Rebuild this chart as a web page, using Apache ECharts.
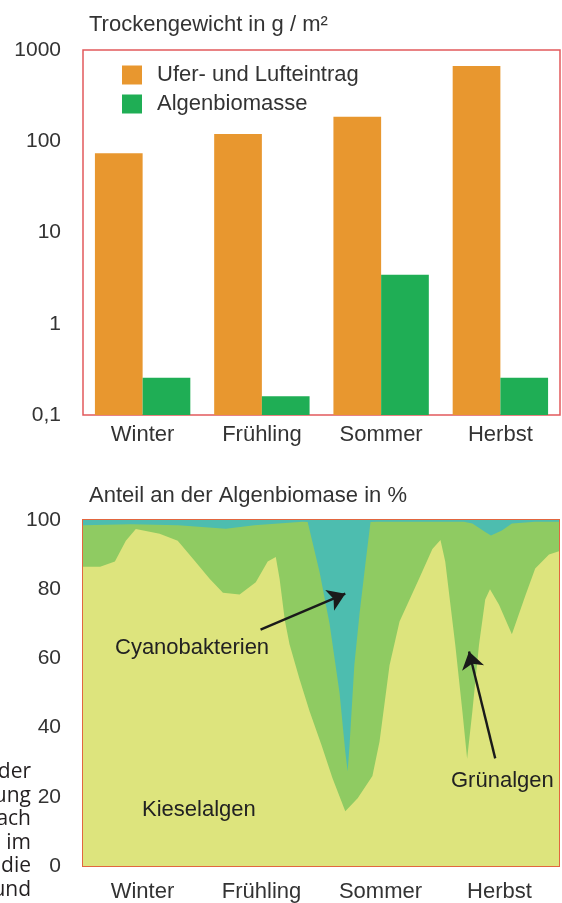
<!DOCTYPE html>
<html>
<head>
<meta charset="utf-8">
<script src="https://cdn.jsdelivr.net/npm/echarts@6/dist/echarts.min.js"></script>
<style>
  html, body { margin: 0; padding: 0; background: #fff; }
  #chart { width: 562px; height: 903px; }
</style>
</head>
<body>
<div id="chart"></div>
<script>
// Jahreszeiten (x-Achse beider Diagramme)
const seasons = ["Winter", "Frühling", "Sommer", "Herbst"];

// oben: Trockengewicht in g / m² (log)
const uferLuft = [74, 120, 185, 668];
const algen = [0.256, 0.161, 3.45, 0.256];

// unten: Anteil an der Algenbiomasse, kumulierte Obergrenzen in %
// x = Position im Jahr (0..100)
const kieselX = [0, 3.6, 6.7, 9.0, 11.1, 16.1, 19.9, 23.1, 26.6, 29.4, 32.9, 36.3, 38.8, 40.5, 41.3, 42.4, 43.4, 45.5, 47.6, 50.1, 52.4, 55.1, 57.7, 60.8, 62.3, 64.4, 66.5, 70.6, 73.4, 75.1, 76.1, 78.2, 79.7, 80.7, 81.8, 83.2, 84.5, 85.5, 87.4, 90.1, 92.9, 95.0, 97.9, 100];
const kieselTop = [86.5, 86.5, 88, 94, 97.4, 96, 94, 88.8, 83, 79, 78.5, 82, 88, 89.3, 83, 71, 64, 54, 44.7, 35, 25.4, 15.8, 19.6, 26, 36, 58, 70.7, 83, 91.6, 94.2, 88, 64, 44.7, 31, 44.7, 64, 77, 80, 75.5, 67, 78, 86, 90, 91];

const gruenX = [0, 10, 20, 30, 36, 46.1, 47.2, 49.7, 51.8, 53.9, 55.1, 55.6, 56.0, 57.0, 58.1, 59.3, 60.4, 62, 80, 81.8, 84.5, 85.7, 88, 90.1, 95, 100];
const gruenTop = [98.5, 98.8, 98.5, 97.5, 98.5, 99.5, 99.4, 85, 70, 50, 33, 27.4, 35, 58, 73, 87, 99.4, 99.5, 99.5, 99, 96.5, 95.5, 97, 99, 99.5, 99.5];

const cyanoX = [0, 100];
const cyanoTop = [100, 100];

const pctTicks = [0, 20, 40, 60, 80, 100];

// Reste des Fließtexts links neben dem Diagramm
const sideWords = ["der", "ung", "ach", "im", "die", "und"];

const txt = "#333";
const font = "Liberation Sans, Arial, sans-serif";

const chart = echarts.init(document.getElementById("chart"));

function pairs(xs, ys) {
  return xs.map((x, i) => [x, ys[i]]);
}

function areaSeries(name, xs, ys, color) {
  return {
    name: name,
    type: "line",
    xAxisIndex: 1,
    yAxisIndex: 1,
    data: pairs(xs, ys),
    symbol: "none",
    lineStyle: { width: 0 },
    areaStyle: { color: color, opacity: 1 },
    silent: true
  };
}

const kiesel = areaSeries("Kieselalgen", kieselX, kieselTop, "#dde47d");
// Pfeile zu den Beschriftungen
kiesel.markLine = {
  silent: true,
  symbol: ["none", "arrow"],
  symbolSize: 17,
  label: { show: false },
  lineStyle: { color: "#1a1a1a", width: 2.4, type: "solid" },
  data: [
    [{ coord: [37.3, 68.3] }, { coord: [55.1, 78.7] }],
    [{ coord: [86.6, 31.1] }, { coord: [81.1, 62] }]
  ]
};

const sideText = sideWords.map((w, i) => ({
  type: "text",
  x: 31,
  y: 772 + i * 23.6,
  style: {
    text: w, fontSize: 21, fontFamily: "Open Sans, sans-serif",
    fill: "#231f20", align: "right", verticalAlign: "middle"
  }
}));

const option = {
  animation: false,
  textStyle: { fontFamily: font },
  title: [
    { text: "Trockengewicht in g / m²", left: 84, top: 9,
      textStyle: { fontSize: 22, fontWeight: "normal", color: txt } },
    { text: "Anteil an der Algenbiomase in %", left: 84, top: 480,
      textStyle: { fontSize: 22, fontWeight: "normal", color: txt } }
  ],
  legend: {
    data: ["Ufer- und Lufteintrag", "Algenbiomasse"],
    orient: "vertical",
    left: 117,
    top: 59,
    icon: "rect",
    itemWidth: 20,
    itemHeight: 19,
    itemGap: 7,
    textStyle: { fontSize: 22, color: txt, padding: [0, 0, 0, 10] }
  },
  grid: [
    { left: 83, top: 50, width: 477, height: 365, show: true,
      borderColor: "#e2595c", borderWidth: 1.5 },
    { left: 83, top: 520, width: 477, height: 347, show: true,
      borderColor: "#e2663f", borderWidth: 2 }
  ],
  xAxis: [
    {
      type: "category",
      gridIndex: 0,
      data: seasons,
      axisLine: { show: false },
      axisTick: { show: false },
      axisLabel: { fontSize: 22, color: txt, margin: 9 }
    },
    {
      type: "value",
      gridIndex: 1,
      min: 0,
      max: 100,
      interval: 12.5,
      axisLine: { show: false },
      axisTick: { show: false },
      splitLine: { show: false },
      axisLabel: {
        fontSize: 22, color: txt, margin: 15,
        formatter: function (v) {
          const k = (v - 12.5) / 25;
          return Number.isInteger(k) && seasons[k] ? seasons[k] : "";
        }
      }
    }
  ],
  yAxis: [
    {
      type: "log",
      gridIndex: 0,
      logBase: 10,
      min: 0.1,
      max: 1000,
      startValue: 0.1,
      axisLine: { show: false },
      axisTick: { show: false },
      splitLine: { show: false },
      axisLabel: {
        fontSize: 21, color: txt, margin: 22,
        formatter: function (v) { return String(v).replace(".", ","); }
      }
    },
    {
      type: "value",
      gridIndex: 1,
      min: pctTicks[0],
      max: pctTicks[pctTicks.length - 1],
      interval: 20,
      axisLine: { show: false },
      axisTick: { show: false },
      splitLine: { show: false },
      axisLabel: { fontSize: 21, color: txt, margin: 22 }
    }
  ],
  series: [
    {
      name: "Ufer- und Lufteintrag",
      type: "bar",
      data: uferLuft,
      itemStyle: { color: "#e8972f" },
      barGap: "0%",
      barCategoryGap: "20%"
    },
    {
      name: "Algenbiomasse",
      type: "bar",
      data: algen,
      itemStyle: { color: "#1fae55" }
    },
    areaSeries("Cyanobakterien", cyanoX, cyanoTop, "#4dbdaf"),
    areaSeries("Grünalgen", gruenX, gruenTop, "#8fcb62"),
    kiesel
  ],
  graphic: [
    { type: "text", left: 115, top: 637, z: 100,
      style: { text: "Cyanobakterien", fontSize: 22, fontFamily: font, fill: "#222" } },
    { type: "text", left: 142, top: 799, z: 100,
      style: { text: "Kieselalgen", fontSize: 22, fontFamily: font, fill: "#222" } },
    { type: "text", left: 451, top: 770, z: 100,
      style: { text: "Grünalgen", fontSize: 22, fontFamily: font, fill: "#222" } }
  ].concat(sideText)
};

chart.setOption(option);
</script>
</body>
</html>
